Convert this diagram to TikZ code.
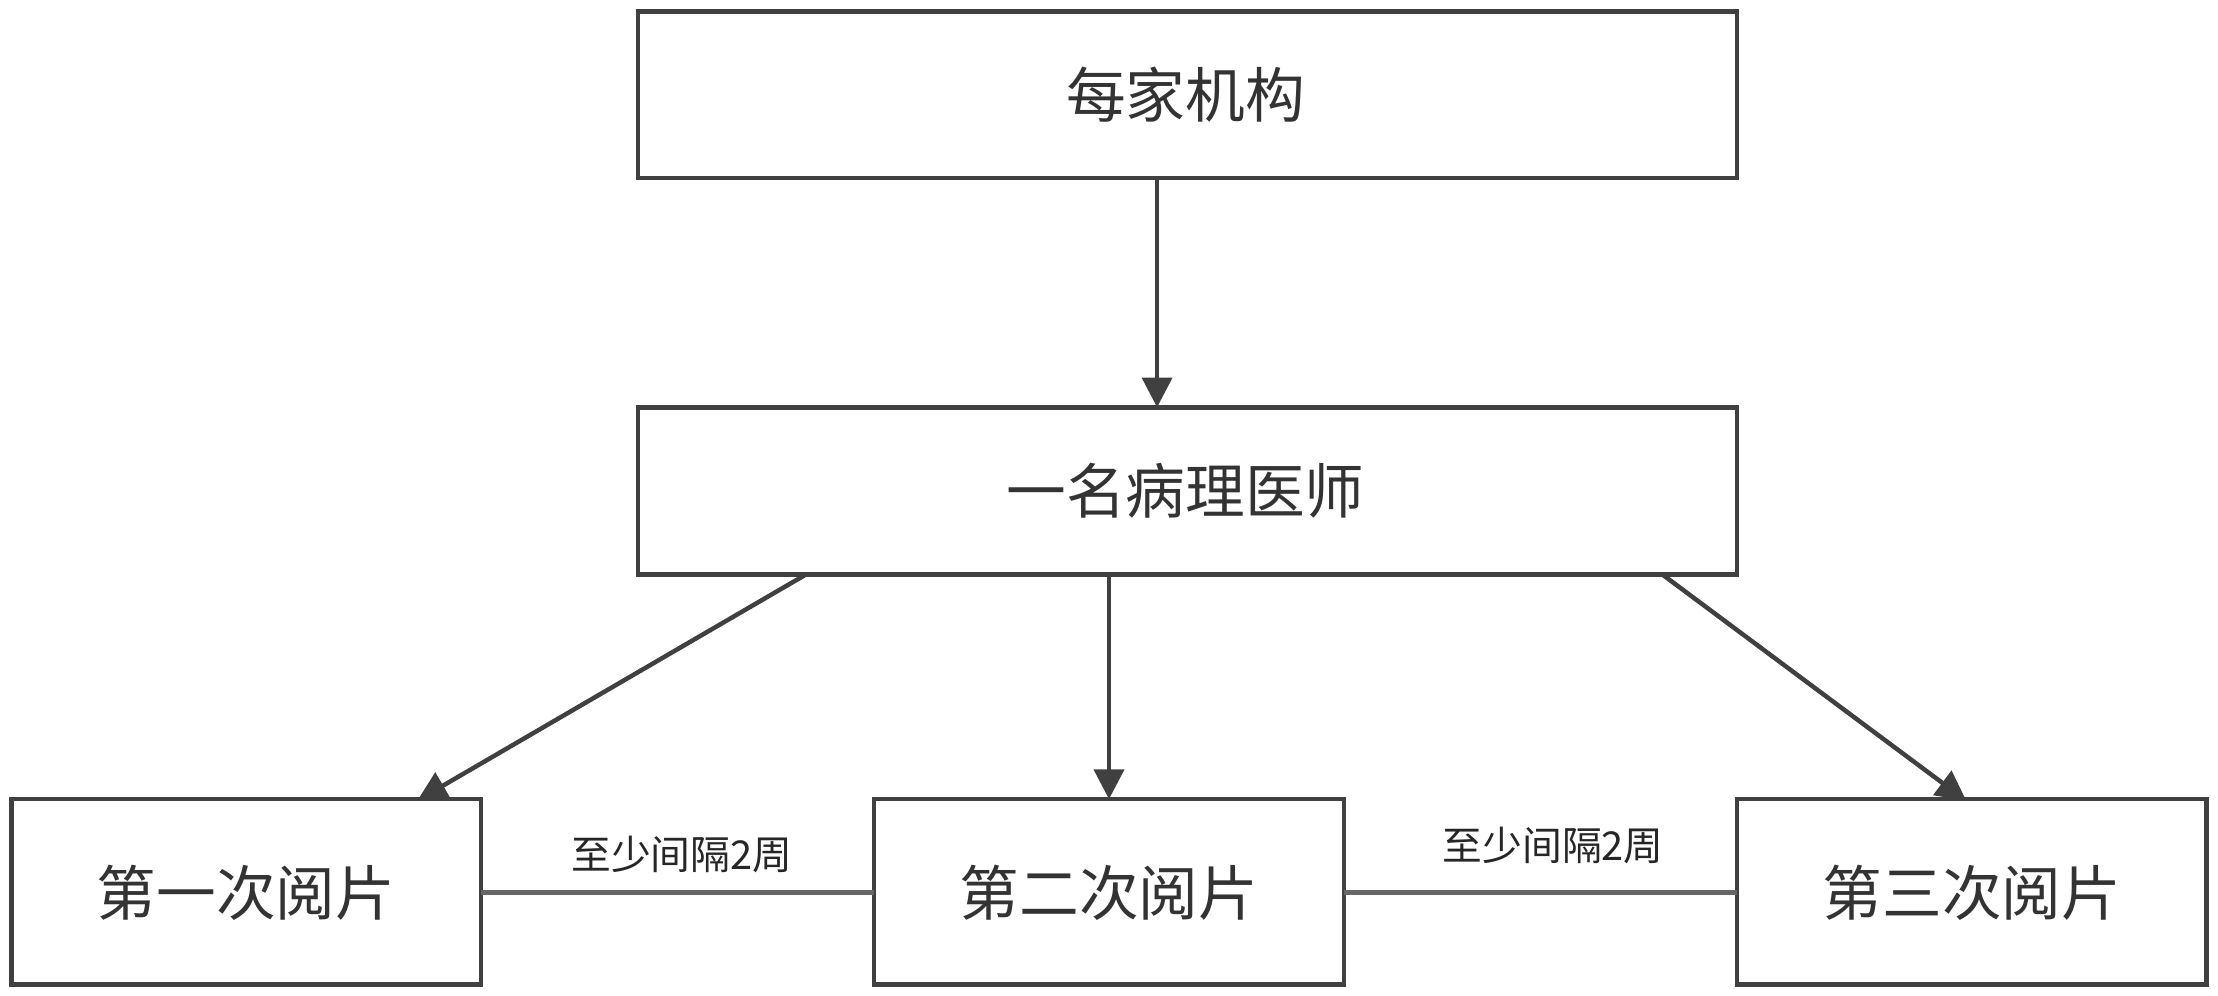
\documentclass[tikz,border=0pt]{standalone}
\usepackage{fontspec}
\setmainfont{Noto Sans CJK SC}
\usetikzlibrary{arrows.meta}
\begin{document}
\begin{tikzpicture}[x=0.01cm,y=-0.01cm,
  box/.style={draw=black!75,line width=0.9pt},
  lbl/.style={font=\fontsize{12pt}{14pt}\selectfont,text=black!80},
  small/.style={font=\fontsize{8pt}{10pt}\selectfont,text=black!85},
  arr/.style={draw=black!75,line width=0.9pt,-{Triangle[length=6pt,width=6pt]}},
  ln/.style={draw=black!60,line width=0.9pt}]
\useasboundingbox (0,0) rectangle (1568,704);
\draw[box] (451,8) rectangle (1228,126);
\node[lbl] (top) at (838,67) {每家机构};
\draw[box] (451,288) rectangle (1228,406);
\node[lbl] (mid) at (838,347) {一名病理医师};
\draw[box] (8,565) rectangle (340,696);
\node[lbl] (b1) at (174,631) {第一次阅片};
\draw[box] (618,565) rectangle (950,696);
\node[lbl] (b2) at (784,631) {第二次阅片};
\draw[box] (1228,565) rectangle (1560,696);
\node[lbl] (b3) at (1394,631) {第三次阅片};
\coordinate (t0) at (818,126); \coordinate (t1) at (818,288);
\coordinate (m1) at (570,406); \coordinate (e1) at (295,566);
\coordinate (m2) at (784,406); \coordinate (e2) at (784,565);
\coordinate (m3) at (1175,406); \coordinate (e3) at (1390,566);
\coordinate (l1a) at (340,631); \coordinate (l1b) at (618,631);
\coordinate (l2a) at (950,631); \coordinate (l2b) at (1228,631);
\draw[arr] (t0) -- (t1);
\draw[arr] (m1) -- (e1);
\draw[arr] (m2) -- (e2);
\draw[arr] (m3) -- (e3);
\draw[ln] (l1a) -- (l1b);
\draw[ln] (l2a) -- (l2b);
\node[small] (g1) at (482,604) {至少间隔2周};
\node[small] (g2) at (1098,598) {至少间隔2周};
\end{tikzpicture}
\end{document}
